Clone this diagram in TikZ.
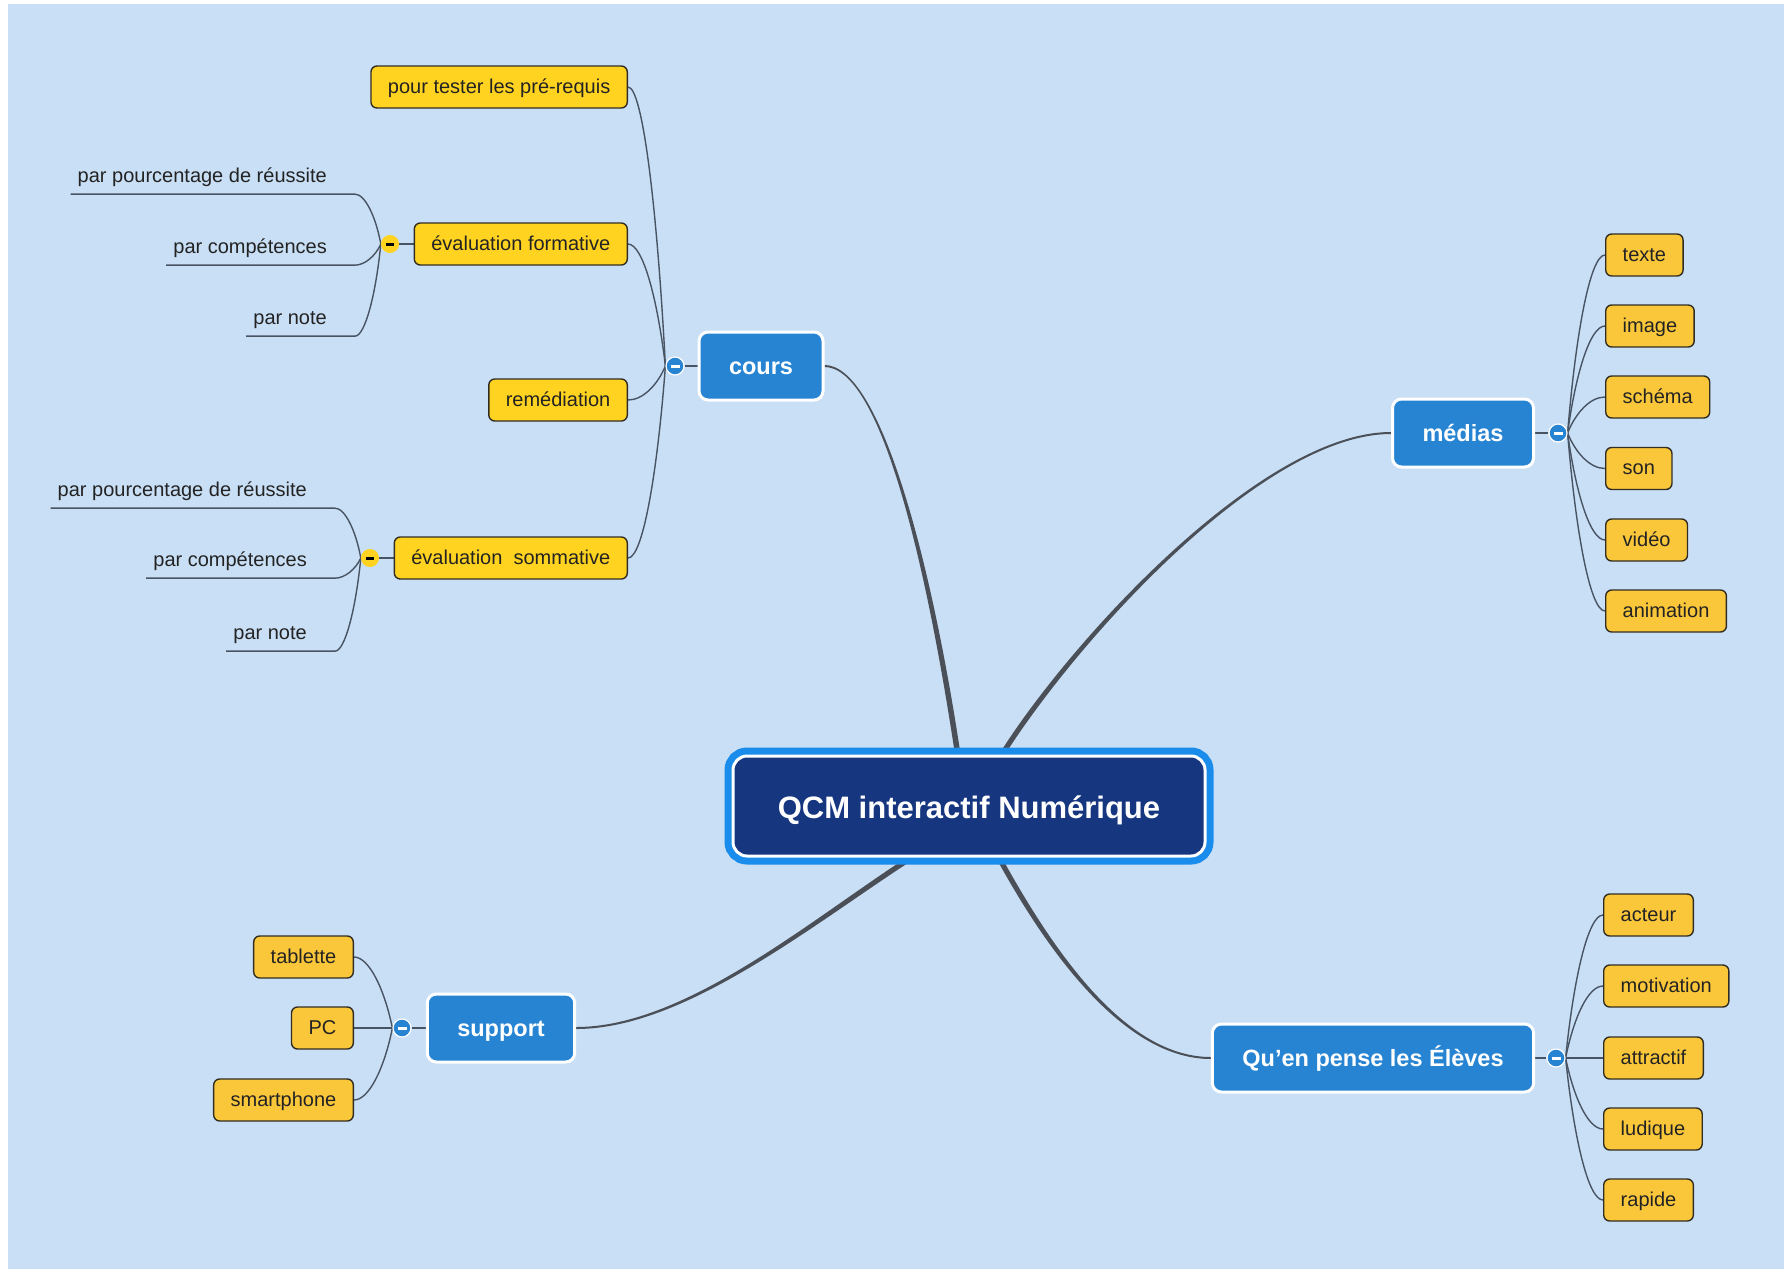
\documentclass[tikz,border=0pt]{standalone}
\usepackage{fontspec}
\setmainfont{Liberation Sans}
\definecolor{bgblue}{RGB}{201,223,245}
\definecolor{navy}{RGB}{22,54,128}
\definecolor{ringblue}{RGB}{26,140,235}
\definecolor{nodeblue}{RGB}{39,132,211}
\definecolor{yellowA}{RGB}{255,211,32}
\definecolor{yellowB}{RGB}{250,199,58}
\definecolor{conncol}{RGB}{72,84,100}
\definecolor{maincol}{RGB}{75,80,88}
\definecolor{txtdark}{RGB}{35,35,35}
\definecolor{boxline}{RGB}{50,45,35}
\pgfdeclarelayer{bg}
\pgfdeclarelayer{edges}
\pgfsetlayers{bg,edges,main}
\begin{document}
\begin{tikzpicture}[x=1pt,y=-1pt,
  ybox/.style={draw=boxline, line width=1.4pt, rounded corners=6pt, fill=yellowA,
    minimum height=42pt, inner xsep=17pt, inner ysep=0pt, text=txtdark,
    text height=15.5pt, text depth=3.5pt, font=\fontsize{20}{24}\selectfont},
  yboxB/.style={ybox, fill=yellowB},
  bbox/.style={fill=nodeblue, draw=white, line width=3pt, rounded corners=9pt,
    text=white, font=\bfseries\fontsize{23.5}{28}\selectfont,
    minimum height=68pt, inner xsep=30pt, inner ysep=0pt, text height=19.5pt, text depth=2.5pt},
  rootbox/.style={fill=navy, draw=white, line width=3pt, rounded corners=14pt,
    preaction={draw=ringblue, line width=17pt},
    minimum width=472pt, minimum height=100pt, text=white,
    text height=26pt, text depth=2pt,
    font=\bfseries\fontsize{31}{36}\selectfont},
  bbtn/.style={circle, fill=nodeblue, draw=white, line width=1.2pt, minimum size=18pt, inner sep=0pt,
    path picture={\draw[white, line width=3pt] ([xshift=-4.5pt]path picture bounding box.center) -- ([xshift=4.5pt]path picture bounding box.center);}},
  ybtn/.style={circle, fill=yellowA, minimum size=18pt, inner sep=0pt,
    path picture={\draw[black, line width=3pt] ([xshift=-4pt]path picture bounding box.center) -- ([xshift=4pt]path picture bounding box.center);}},
  leaf/.style={anchor=base east, inner xsep=0pt, inner ysep=7.8pt, text=txtdark,
    font=\fontsize{20}{24}\selectfont},
  conn/.style={draw=conncol, line width=1.4pt},
  mainfill/.style={fill=maincol}
]
\useasboundingbox (0,0) rectangle (1784,1269);
\begin{pgfonlayer}{bg}
  \fill[white] (0,0) rectangle (1784,1269);
  \fill[bgblue] (8,4) rectangle (1784,1269);
\end{pgfonlayer}

% ---------- root ----------
\node[rootbox] (root) at (969,806) {QCM interactif Numérique};
\coordinate (rc) at (958,756);
\coordinate (rm) at (1001,756);
\coordinate (rs) at (914,856);
\coordinate (re) at (998,856);

% ---------- main branches ----------
\node[bbox] (cours) at (761,366) {cours};
\node[bbox] (medias) at (1463,433) {médias};
\node[bbox] (support) at (501,1028) {support};
\node[bbox] (eleves) at (1373,1058) {Qu'en pense les Élèves};

\node[bbtn] (cb) at (675,366) {};
\node[bbtn] (mb) at (1558,433) {};
\node[bbtn] (sb) at (402,1028) {};
\node[bbtn] (eb) at (1556,1058) {};

% ---------- cours children ----------
\node[ybox, anchor=east] (pt) at (628,87) {pour tester les pré-requis};
\node[ybox, anchor=east] (form) at (628,244) {évaluation formative};
\node[ybox, anchor=east] (rem) at (628,400) {remédiation};
\node[ybox, anchor=east] (som) at (628,558) {évaluation\ \ sommative};
\node[ybtn] (fb) at (390,244) {};
\node[ybtn] (smb) at (370,558) {};

\node[leaf] (f1) at (327,182) {par pourcentage de réussite};
\node[leaf] (f2) at (327,253) {par compétences};
\node[leaf] (f3) at (327,324) {par note};
\node[leaf] (s1) at (307,496) {par pourcentage de réussite};
\node[leaf] (s2) at (307,566) {par compétences};
\node[leaf] (s3) at (307,639) {par note};

% ---------- médias children ----------
\node[yboxB, anchor=west] (m1) at (1605,255) {texte};
\node[yboxB, anchor=west] (m2) at (1605,326) {image};
\node[yboxB, anchor=west] (m3) at (1605,397) {schéma};
\node[yboxB, anchor=west] (m4) at (1605,468.5) {son};
\node[yboxB, anchor=west] (m5) at (1605,540) {vidéo};
\node[yboxB, anchor=west] (m6) at (1605,611) {animation};

% ---------- élèves children ----------
\node[yboxB, anchor=west] (e1) at (1603,915) {acteur};
\node[yboxB, anchor=west] (e2) at (1603,986) {motivation};
\node[yboxB, anchor=west] (e3) at (1603,1058) {attractif};
\node[yboxB, anchor=west] (e4) at (1603,1129) {ludique};
\node[yboxB, anchor=west] (e5) at (1603,1200) {rapide};

% ---------- support children ----------
\node[yboxB, anchor=east] (p1) at (354,957) {tablette};
\node[yboxB, anchor=east] (p2) at (354,1028) {PC};
\node[yboxB, anchor=east] (p3) at (354,1100) {smartphone};

% ---------- connectors ----------
\begin{pgfonlayer}{edges}
  % tapered main branches
  \fill[mainfill] ([yshift=1pt]cours.east) .. controls +(55,0) and +(-30,-200) .. ([xshift=2.8pt]rc)
     -- ([xshift=-2.8pt]rc) .. controls +(-30,-200) and +(55,0) .. ([yshift=-1pt]cours.east) -- cycle;
  \fill[mainfill] ([yshift=1pt]medias.west) .. controls +(-130,0) and +(70,-112) .. ([xshift=-1.95pt,yshift=1.7pt]rm)
     -- ([xshift=1.95pt,yshift=-1.7pt]rm) .. controls +(70,-112) and +(-130,0) .. ([yshift=-1pt]medias.west) -- cycle;
  \fill[mainfill] ([yshift=-1pt]support.east) .. controls +(110,0) and +(-100,64) .. ([xshift=1.4pt,yshift=-2.2pt]rs)
     -- ([xshift=-1.4pt,yshift=2.2pt]rs) .. controls +(-100,64) and +(110,0) .. ([yshift=1pt]support.east) -- cycle;
  \fill[mainfill] ([yshift=-1pt]eleves.west) .. controls +(-80,0) and +(60,110) .. ([xshift=-2.15pt,yshift=-1.45pt]re)
     -- ([xshift=2.15pt,yshift=1.45pt]re) .. controls +(60,110) and +(-80,0) .. ([yshift=1pt]eleves.west) -- cycle;

  % button links
  \draw[conn] (cb) -- (cours);
  \draw[conn] (medias) -- (mb);
  \draw[conn] (sb) -- (support);
  \draw[conn] (eleves) -- (eb);
  \draw[conn] (fb) -- (form);
  \draw[conn] (smb) -- (som);

  % cours children
  \draw[conn] (pt.east) .. controls +(15,0) and +(-8,-153) .. (cb.west);
  \draw[conn] (form.east) .. controls +(15,0) and +(-8,-67) .. (cb.west);
  \draw[conn] (rem.east) .. controls +(15,0) and +(-8,19) .. (cb.west);
  \draw[conn] (som.east) .. controls +(15,0) and +(-8,106) .. (cb.west);

  % formative leaves
  \draw[conn] ([xshift=-7pt]f1.south west) -- ([xshift=28pt]f1.south east) .. controls +(10,0) and +(-5,-27.5) .. (fb.west);
  \draw[conn] ([xshift=-7pt]f2.south west) -- ([xshift=28pt]f2.south east) .. controls +(10,0) and +(-5,11.5) .. (fb.west);
  \draw[conn] ([xshift=-7pt]f3.south west) -- ([xshift=28pt]f3.south east) .. controls +(10,0) and +(-5,50.6) .. (fb.west);
  % sommative leaves
  \draw[conn] ([xshift=-7pt]s1.south west) -- ([xshift=28pt]s1.south east) .. controls +(10,0) and +(-5,-27.5) .. (smb.west);
  \draw[conn] ([xshift=-7pt]s2.south west) -- ([xshift=28pt]s2.south east) .. controls +(10,0) and +(-5,11) .. (smb.west);
  \draw[conn] ([xshift=-7pt]s3.south west) -- ([xshift=28pt]s3.south east) .. controls +(10,0) and +(-5,51) .. (smb.west);

  % médias children
  \draw[conn] (m1.west) .. controls +(-15,0) and +(8,-98) .. (mb.east);
  \draw[conn] (m2.west) .. controls +(-15,0) and +(8,-59) .. (mb.east);
  \draw[conn] (m3.west) .. controls +(-15,0) and +(8,-20) .. (mb.east);
  \draw[conn] (m4.west) .. controls +(-15,0) and +(8,20) .. (mb.east);
  \draw[conn] (m5.west) .. controls +(-15,0) and +(8,59) .. (mb.east);
  \draw[conn] (m6.west) .. controls +(-15,0) and +(8,98) .. (mb.east);

  % élèves children
  \draw[conn] (e1.west) .. controls +(-15,0) and +(8,-79) .. (eb.east);
  \draw[conn] (e2.west) .. controls +(-15,0) and +(8,-40) .. (eb.east);
  \draw[conn] (e3.west) -- (eb.east);
  \draw[conn] (e4.west) .. controls +(-15,0) and +(8,39) .. (eb.east);
  \draw[conn] (e5.west) .. controls +(-15,0) and +(8,78) .. (eb.east);

  % support children
  \draw[conn] (p1.east) .. controls +(15,0) and +(-8,-39) .. (sb.west);
  \draw[conn] (p2.east) -- (sb.west);
  \draw[conn] (p3.east) .. controls +(15,0) and +(-8,40) .. (sb.west);
\end{pgfonlayer}
\end{tikzpicture}
\end{document}
